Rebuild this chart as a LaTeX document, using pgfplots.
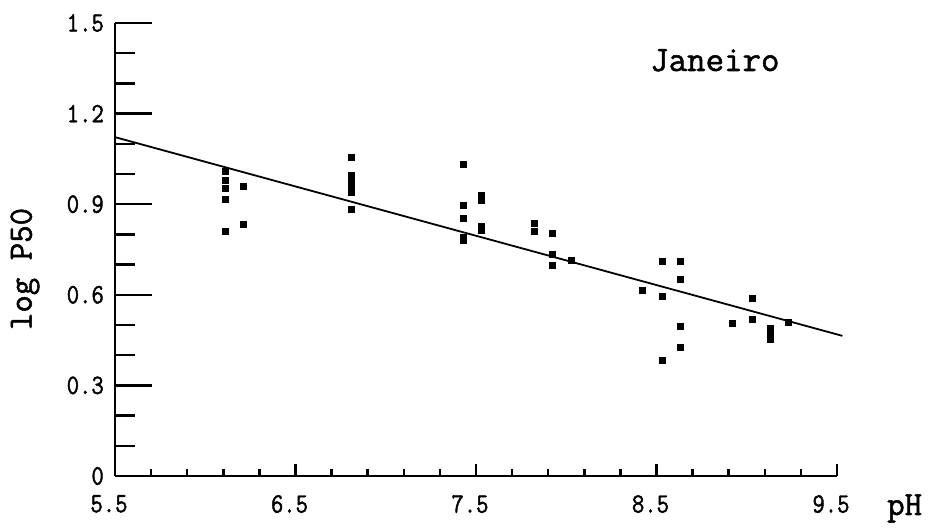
\documentclass[border=0pt]{standalone}
\usepackage{pgfplots}
\pgfplotsset{compat=1.18}
\usepackage{fontspec}
\setmainfont[FakeBold=1.5,AutoFakeBold=1.5]{Latin Modern Mono}
\newfontfamily\ticfont[FakeStretch=0.86,FakeBold=1.5]{Latin Modern Mono}
\newfontfamily\lblfont[FakeBold=1.5]{Latin Modern Mono}
\begin{document}
\begin{tikzpicture}[x=1bp,y=1bp]
\path[use as bounding box] (0,0) rectangle (929,531);
\begin{axis}[
  at={(115bp,55bp)}, anchor=south west, scale only axis,
  width=722bp, height=453bp,
  xmin=5.5, xmax=9.5, ymin=0, ymax=1.5,
  axis x line=none, axis y line=left,
  axis line style={-, line width=2.5bp, black},
  ytick={0,0.3,0.6,0.9,1.2,1.5},
  yticklabels={0,0.3,0.6,0.9,1.2,1.5},
  minor y tick num=2,
  tick align=inside,
  major tick length=37bp, minor tick length=20bp,
  tick style={line width=2.5bp, black},
  yticklabel style={font=\ticfont\fontsize{28}{28}\selectfont, anchor=east, inner sep=0pt, xshift=-11bp},
]
\end{axis}
\begin{axis}[
  at={(115bp,55bp)}, anchor=south west, scale only axis,
  width=722bp, height=453bp,
  xmin=5.5, xmax=9.5, ymin=0, ymax=1.5,
  axis y line=none, axis x line=bottom,
  axis line style={-, line width=2.5bp, black},
  xtick={5.5,6.5,7.5,8.5,9.5},
  xticklabels={5.5,6.5,7.5,8.5,9.5},
  minor x tick num=4,
  tick align=inside,
  major tick length=12bp, minor tick length=7bp,
  tick style={line width=2.5bp, black},
  xticklabel style={font=\ticfont\fontsize{28}{28}\selectfont, anchor=north, inner sep=0pt, yshift=-19bp, xshift=-6bp},
  clip=false,
]
\addplot[black, line width=1.8bp] coordinates {(5.5,1.122) (9.53,0.464)};
\addplot[only marks, mark=square*, mark size=3bp, black] coordinates {
(6.11,1.008) (6.11,0.980) (6.11,0.953) (6.11,0.917) (6.11,0.809)
(6.21,0.961) (6.21,0.834)
(6.81,1.055) (6.81,0.997) (6.81,0.980) (6.81,0.964) (6.81,0.941) (6.81,0.884)
(7.43,1.032) (7.43,0.897) (7.43,0.853) (7.43,0.792) (7.43,0.781)
(7.53,0.930) (7.53,0.914) (7.53,0.828) (7.53,0.815)
(7.82,0.837) (7.82,0.809)
(7.92,0.804) (7.92,0.735) (7.92,0.697)
(8.03,0.713)
(8.42,0.614)
(8.53,0.712) (8.53,0.594) (8.53,0.384)
(8.63,0.712) (8.63,0.652) (8.63,0.497) (8.63,0.427)
(8.92,0.506)
(9.03,0.588) (9.03,0.519)
(9.13,0.490) (9.13,0.470) (9.13,0.452)
(9.23,0.508)
};
\end{axis}
\node[anchor=base west, inner sep=0pt, font=\lblfont\fontsize{36}{36}\selectfont] at (650,460) {Janeiro};
\node[anchor=base west, inner sep=0pt, font=\lblfont\fontsize{34}{34}\selectfont] at (887,16) {pH};
\node[rotate=90, anchor=center, inner sep=0pt, font=\lblfont\fontsize{34}{34}\selectfont] at (25,262) {log P50};
\end{tikzpicture}
\end{document}
